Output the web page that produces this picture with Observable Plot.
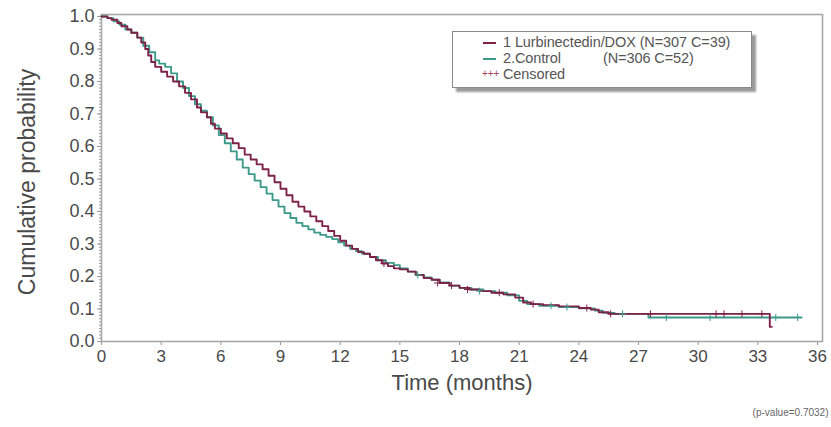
<!DOCTYPE html>
<html><head><meta charset="utf-8">
<script src="https://cdn.jsdelivr.net/npm/d3@7"></script>
<script src="https://cdn.jsdelivr.net/npm/@observablehq/plot@0.6"></script>
<style>
body{margin:0;background:#fff;font-family:"Liberation Sans",Arial,sans-serif;}
#wrap{position:relative;width:831px;height:427px;}
#legend{position:absolute;left:452px;top:31px;width:298px;height:55px;border:1px solid #8a8a8a;background:#fff;box-shadow:4px 4px 2px #9a9a9a;font-size:14.5px;color:#555;letter-spacing:-0.1px;}
.row{position:absolute;left:0;height:16px;line-height:16px;white-space:pre;}
.sw{position:absolute;left:30px;top:8px;width:13px;height:2px;}
.tx{position:absolute;left:50px;top:0;}
</style></head>
<body><div id="wrap"></div>
<script>
const seriesNames = ["1 Lurbinectedin/DOX", "2.Control"];
const seriesNotes = ["(N=307 C=39)", "(N=306 C=52)"];
const seriesColors = ["#7d2347", "#3d9a8b"];
const censorColor = "#a5405f";

const lurbTime = [0,0.3,0.5,0.8,1.0,1.3,1.5,1.8,2.0,2.2,2.35,2.5,2.7,3.0,3.3,3.6,3.9,4.2,4.5,4.8,5.0,5.3,5.5,5.7,6.0,6.3,6.6,6.9,7.2,7.5,7.8,8.1,8.4,8.7,9.0,9.3,9.6,9.9,10.2,10.5,10.8,11.1,11.4,11.7,12.0,12.3,12.6,12.9,13.2,13.5,13.8,14.1,14.4,14.7,15.0,15.4,15.8,16.2,16.6,17.0,17.5,18.0,18.5,19.0,19.6,20.2,20.8,21.2,21.6,22.2,23.0,24.0,24.6,25.0,25.5,33.6,33.7];
const lurbSurv = [1.0,0.995,0.99,0.98,0.97,0.96,0.95,0.935,0.92,0.90,0.88,0.86,0.845,0.83,0.815,0.80,0.785,0.765,0.745,0.72,0.705,0.69,0.67,0.655,0.64,0.625,0.61,0.595,0.575,0.56,0.545,0.53,0.51,0.49,0.47,0.45,0.43,0.415,0.40,0.385,0.37,0.355,0.34,0.325,0.31,0.295,0.285,0.275,0.27,0.26,0.25,0.24,0.232,0.225,0.222,0.215,0.205,0.195,0.19,0.18,0.172,0.165,0.16,0.155,0.15,0.145,0.135,0.12,0.115,0.112,0.108,0.103,0.098,0.09,0.085,0.045,0.045];

const ctrlTime = [0,0.3,0.6,0.9,1.2,1.5,1.8,2.1,2.4,2.7,2.9,3.2,3.5,3.8,4.1,4.4,4.7,5.0,5.3,5.6,5.9,6.2,6.5,6.8,7.1,7.4,7.7,8.0,8.3,8.6,8.9,9.2,9.5,9.8,10.1,10.4,10.7,11.0,11.3,11.6,11.9,12.2,12.5,12.8,13.1,13.5,13.9,14.3,14.7,15.0,15.4,15.8,16.2,16.6,17.0,17.5,18.0,18.6,19.2,19.8,20.4,21.0,21.4,22.0,23.0,24.0,24.8,25.2,25.8,27.5,35.2];
const ctrlSurv = [1.0,0.995,0.985,0.975,0.96,0.95,0.935,0.91,0.89,0.865,0.855,0.845,0.825,0.80,0.78,0.755,0.73,0.71,0.69,0.665,0.635,0.61,0.585,0.56,0.535,0.515,0.495,0.475,0.455,0.435,0.415,0.395,0.38,0.365,0.355,0.345,0.335,0.328,0.322,0.315,0.305,0.295,0.285,0.278,0.27,0.26,0.25,0.242,0.235,0.225,0.215,0.205,0.197,0.19,0.182,0.172,0.165,0.16,0.155,0.15,0.142,0.125,0.115,0.11,0.106,0.102,0.095,0.088,0.085,0.074,0.074];

const lurbCensorTime = [14.2,16.9,17.6,18.4,20.0,21.7,24.4,25.6,27.6,30.9,31.3,32.2,33.2];
const lurbCensorSurv = [0.24,0.18,0.172,0.16,0.15,0.115,0.103,0.085,0.085,0.085,0.085,0.085,0.085];
const ctrlCensorTime = [15.9,19.0,22.6,23.4,26.2,28.4,30.6,33.9,35.0];
const ctrlCensorSurv = [0.205,0.155,0.11,0.106,0.085,0.074,0.074,0.074,0.074];

const xTicks = [0,3,6,9,12,15,18,21,24,27,30,33,36];
const yTicks = [0,0.1,0.2,0.3,0.4,0.5,0.6,0.7,0.8,0.9,1.0];
const yMinorTicks = d3.range(0, 101).map(i => i / 100);

const lurb = lurbTime.map((t, i) => ({t, s: lurbSurv[i], g: seriesNames[0]}));
const ctrl = ctrlTime.map((t, i) => ({t, s: ctrlSurv[i], g: seriesNames[1]}));
const cens = [
  ...lurbCensorTime.map((t, i) => ({t, s: lurbCensorSurv[i], g: seriesNames[0]})),
  ...ctrlCensorTime.map((t, i) => ({t, s: ctrlCensorSurv[i], g: seriesNames[1]}))
];

const chart = Plot.plot({
  width: 831, height: 427,
  marginLeft: 101, marginRight: 9, marginTop: 14, marginBottom: 86,
  style: {fontFamily: '"Liberation Sans", Arial, sans-serif', background: "#fff"},
  x: {domain: [0, 36.25]},
  y: {domain: [0, 1.006]},
  color: {domain: seriesNames, range: seriesColors},
  marks: [
    Plot.axisY({ticks: yMinorTicks, tickSize: 2, tickFormat: () => "", stroke: "#999", label: null}),
    Plot.axisY({ticks: yTicks, tickSize: 4, tickFormat: d3.format(".1f"), fontSize: 18, fill: "#4a4a4a", stroke: "#999", tickPadding: 3, label: null}),
    Plot.axisX({ticks: xTicks, tickSize: 4, fontSize: 17, fill: "#4a4a4a", stroke: "#999", tickPadding: 4, label: null}),
    Plot.frame({stroke: "#a8a8a8", strokeWidth: 1.6}),
    Plot.line(ctrl, {x: "t", y: "s", stroke: "g", strokeWidth: 1.9, curve: "step-after"}),
    Plot.line(lurb, {x: "t", y: "s", stroke: "g", strokeWidth: 1.9, curve: "step-after"}),
    Plot.dot(cens, {x: "t", y: "s", symbol: "plus", r: 2.4, stroke: "g", strokeWidth: 1}),
    Plot.text(["Time (months)"], {frameAnchor: "bottom", dy: 41, fontSize: 22, fill: "#4a4a4a", lineAnchor: "middle"}),
    Plot.text(["Cumulative probability"], {frameAnchor: "left", dx: -74, dy: 4, rotate: -90, fontSize: 23, fill: "#4a4a4a", textAnchor: "middle", lineAnchor: "middle"}),
    Plot.text(["(p-value=0.7032)"], {frameAnchor: "bottom-right", dx: 6, dy: 71, textAnchor: "end", fontSize: 10, fill: "#666", lineAnchor: "middle"})
  ]
});

const wrap = document.getElementById("wrap");
wrap.appendChild(chart);

const legend = document.createElement("div");
legend.id = "legend";
const rows = [
  {sw: seriesColors[0], name: seriesNames[0] + " " + seriesNotes[0], note: "", top: 2, noteLeft: 0},
  {sw: seriesColors[1], name: seriesNames[1], note: seriesNotes[1], top: 18, noteLeft: 150},
];
rows.forEach(r => {
  const row = document.createElement("div");
  row.className = "row"; row.style.top = r.top + "px"; row.style.width = "298px";
  const sw = document.createElement("div"); sw.className = "sw"; sw.style.background = r.sw;
  const tx = document.createElement("div"); tx.className = "tx"; tx.textContent = r.name;
  row.append(sw, tx);
  if (r.note) {
    const nt = document.createElement("div"); nt.className = "tx"; nt.style.left = r.noteLeft + "px"; nt.textContent = r.note;
    row.append(nt);
  }
  legend.appendChild(row);
});
const crow = document.createElement("div");
crow.className = "row"; crow.style.top = "34px";
const plus = document.createElement("div"); plus.className = "tx"; plus.style.left = "29px"; plus.style.color = censorColor; plus.style.fontSize = "10px"; plus.textContent = "+++";
const ctx = document.createElement("div"); ctx.className = "tx"; ctx.textContent = "Censored";
crow.append(plus, ctx); legend.appendChild(crow);
wrap.appendChild(legend);
</script></body></html>
